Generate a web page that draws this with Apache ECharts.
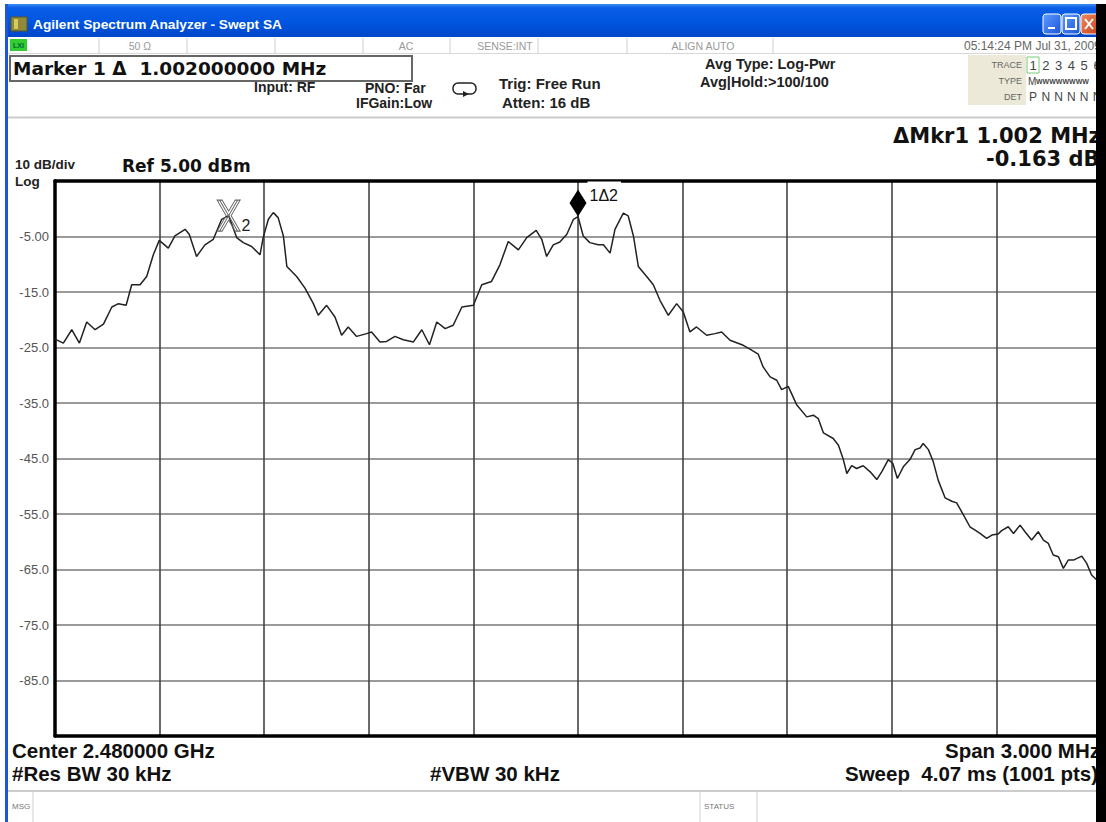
<!DOCTYPE html>
<html><head><meta charset="utf-8">
<script src="https://cdn.jsdelivr.net/npm/echarts@6/dist/echarts.min.js"></script>
<style>html,body{margin:0;padding:0;background:#fff;overflow:hidden}#c{width:1106px;height:822px}</style>
</head><body><div id="c"></div>
<script>
// Trace: frequency offset from centre (kHz) and level (dBm)
const freqKHz = [-1500,-1476,-1452,-1430,-1409,-1385,-1361,-1337,-1318,-1296,-1280,-1256,-1237,-1218,-1201,-1175,-1156,-1127,-1115,-1094,-1070,-1046,-1022,-1002,-979,-960,-936,-912,-903,-888,-874,-860,-845,-835,-807,-783,-759,-745,-721,-697,-678,-659,-635,-606,-592,-568,-549,-525,-501,-472,-448,-426,-405,-381,-358,-333,-300,-276,-248,-224,-200,-171,-147,-120,-104,-90,-71,-52,-32,-13,0,15,34,58,73,92,106,130,144,159,173,197,216,235,259,283,302,321,340,369,393,412,436,474,493,517,531,551,570,584,603,627,656,675,689,704,732,747,761,771,785,799,818,838,857,871,890,903,916,933,952,967,981,990,1005,1019,1033,1053,1072,1086,1105,1124,1139,1153,1172,1187,1205,1215,1234,1249,1268,1282,1301,1320,1335,1349,1363,1378,1392,1406,1421,1445,1459,1473,1488,1500];
const levelDBm = [-23.5,-24.2,-21.8,-24.2,-20.4,-21.8,-20.8,-17.7,-17.1,-17.4,-13.7,-13.7,-12.2,-8.3,-5.7,-7.1,-4.9,-3.7,-4.6,-8.6,-6.5,-5.5,-1.9,-1.24,-5.2,-6.1,-6.8,-8.3,-5.2,-1.9,-0.7,-1.6,-4.9,-10.4,-12.2,-14.3,-17.1,-19.2,-17.4,-19.5,-22.8,-21.3,-23.0,-22.5,-22.2,-24.0,-23.9,-23.0,-23.6,-24.0,-21.8,-24.5,-20.4,-21.6,-21.0,-17.7,-17.4,-13.7,-13.1,-10.1,-5.9,-7.4,-5.2,-3.9,-5.5,-8.6,-6.5,-6.0,-4.6,-1.9,-1.4,-4.9,-6.1,-6.5,-6.5,-8.0,-3.7,-0.8,-1.3,-4.9,-10.4,-12.2,-13.7,-16.5,-19.2,-17.1,-18.6,-22.2,-21.3,-22.8,-22.5,-22.2,-23.7,-24.6,-25.3,-26.2,-28.5,-30.3,-30.9,-32.6,-32.0,-35.3,-37.5,-37.2,-37.8,-40.4,-41.4,-42.6,-45.2,-47.7,-46.3,-46.8,-46.3,-47.4,-48.8,-47.4,-45.2,-45.9,-48.6,-46.5,-45.2,-43.4,-43.1,-42.3,-43.4,-45.6,-48.9,-52.1,-52.7,-53.0,-55.1,-57.3,-57.9,-58.5,-59.4,-58.8,-58.6,-58.0,-57.3,-58.5,-57.0,-58.2,-59.7,-58.2,-59.7,-60.3,-62.4,-62.7,-64.8,-63.3,-63.3,-62.6,-63.9,-66.0,-66.9,-67.5];
// Y grid / tick labels
const gridTickValues = [-85,-75,-65,-55,-45,-35,-25,-15,-5];
const gridTickLabels = ['-85.0','-75.0','-65.0','-55.0','-45.0','-35.0','-25.0','-15.0','-5.00'];
// Markers: [marker 1, marker 2]
const markerFreqKHz = [0, -1002];
const markerLevel = [-1.40, -1.24];
const markerNames = ['1\u03942', '2'];

const chart = echarts.init(document.getElementById('c'), null, {renderer:'svg', width:1106, height:822});
const SANS = '"Liberation Sans", Arial, sans-serif';
const DJ = '"DejaVu Sans", sans-serif';
function T(text, x, y, font, fill, align, extra){
  return Object.assign({type:'text', z:50, style:{text:text, x:x, y:y, font:font, fill:fill||'#111', textAlign:align||'left', textVerticalAlign:'middle'}}, extra||{});
}
function R(x,y,w,h,fill,stroke,lw,z,r){
  return {type:'rect', z:z||40, shape:{x:x,y:y,width:w,height:h,r:r||0}, style:{fill:fill||'none', stroke:stroke||null, lineWidth:lw||0}};
}
function L(x1,y1,x2,y2,stroke,lw,z){
  return {type:'line', z:z||40, shape:{x1:x1,y1:y1,x2:x2,y2:y2}, style:{stroke:stroke, lineWidth:lw||1}};
}
const blueGrad = new echarts.graphic.LinearGradient(0,0,0,1,[
  {offset:0,color:'#3C8CF5'},{offset:0.12,color:'#0A5EE6'},{offset:0.55,color:'#0055E0'},{offset:1,color:'#0046C8'}]);
const btnGrad = new echarts.graphic.LinearGradient(0,0,1,1,[{offset:0,color:'#5E9CFF'},{offset:1,color:'#1B55D8'}]);
const closeGrad = new echarts.graphic.LinearGradient(0,0,1,1,[{offset:0,color:'#F08A60'},{offset:1,color:'#C8401A'}]);

const g = [];
// window frame
g.push(R(5,4,1091,33,blueGrad,null,0,40));
g.push(R(5,4,3,818,'#1F55D8',null,0,40));
g.push(R(11,17,16,14,'#8E8A3A','#5a5620',1,45));
g.push(R(14,19,4,10,'#D8C860',null,0,46));
g.push(T('Agilent Spectrum Analyzer - Swept SA',33,24,'bold 13.7px '+SANS,'#fff'));
g.push(R(1043,14,18,20,btnGrad,'#fff',1,45,3));
g.push(R(1048,27,7,2,'#fff',null,0,46));
g.push(R(1062,14,18,20,btnGrad,'#fff',1,45,3));
g.push(R(1066,18,10,11,'none','#fff',2,46));
g.push(R(1081,14,18,20,closeGrad,'#fff',1,45,3));
g.push(L(1085,19,1093,29,'#fff',2,46));
g.push(L(1093,19,1085,29,'#fff',2,46));
// status row
g.push(L(8,53.5,1096,53.5,'#d8d8d8',1));
g.push(R(10,39,17,12,'#33CC33',null,0,44));
g.push(T('LXI',18.5,45.5,'bold 7px '+SANS,'#063','center'));
[99,187,275,363,450,538,627,773].forEach(x=>g.push(L(x,38,x,53,'#cfcfcf',1)));
g.push(T('50 \u03a9',140,45.5,'10.5px '+SANS,'#999','center'));
g.push(T('AC',406,45.5,'10.5px '+SANS,'#999','center'));
g.push(T('SENSE:INT',505,45.5,'10.5px '+SANS,'#999','center'));
g.push(T('ALIGN AUTO',703,45.5,'10.5px '+SANS,'#999','center'));
g.push(T('05:14:24 PM Jul 31, 2009',964,45.5,'12px '+SANS,'#666'));
// marker box
g.push(R(10,56,402,25,'#fff','#666',2,41));
g.push(T('Marker 1 \u0394  1.002000000 MHz',13,68.5,'bold 18.5px '+DJ,'#111'));
g.push(T('Input: RF',254,87,'bold 14px '+SANS,'#222'));
g.push(T('PNO: Far',365,88,'bold 14px '+SANS,'#222'));
g.push(T('IFGain:Low',356,103,'bold 14px '+SANS,'#222'));
g.push(R(453,83,23,11,'none','#222',1.5,45,5));
g.push({type:'polygon', z:46, shape:{points:[[463,91],[469,94],[463,97]]}, style:{fill:'#222'}});
g.push(T('Trig: Free Run',499,83,'bold 15px '+SANS,'#222'));
g.push(T('Atten: 16 dB',502,102,'bold 15px '+SANS,'#222'));
g.push(T('Avg Type: Log-Pwr',705,64,'bold 14.5px '+SANS,'#222'));
g.push(T('Avg|Hold:>100/100',700,82,'bold 14.5px '+SANS,'#222'));
// trace info box
g.push(R(968,55,58,50,'#ECE9D8',null,0,41));
g.push(T('TRACE',1022,65,'9px '+SANS,'#666','right'));
g.push(T('TYPE',1022,81,'9px '+SANS,'#666','right'));
g.push(T('DET',1022,97,'9px '+SANS,'#666','right'));
g.push(R(1027,57,12,16,'none','#7c7',1,45));
['1','2','3','4','5','6'].forEach((s,i)=>g.push(T(s,1033+i*12.8,65,'13px '+SANS,'#444','center')));
g.push(T('M',1028,81,'10px '+SANS,'#444'));
g.push(T('WWWWWWWW',1036,81,'bold 7px '+SANS,'#444'));
['P','N','N','N','N','N'].forEach((s,i)=>g.push(T(s,1033+i*12.8,97,'12px '+SANS,'#444','center')));
g.push(L(8,117.5,1096,117.5,'#cccccc',2));
// delta marker readout
g.push(T('\u0394Mkr1 1.002 MHz',893,136,'bold 21px '+DJ,'#111'));
g.push(T('-0.163 dB',986,159,'bold 21px '+DJ,'#111'));
g.push(T('10 dB/div',15,164,'bold 13.5px '+SANS,'#222'));
g.push(T('Log',15,181,'bold 13.5px '+SANS,'#222'));
g.push(T('Ref 5.00 dBm',122,166,'bold 17px '+DJ,'#111'));
// bottom annotations
g.push(T('Center 2.480000 GHz',12,750,'bold 20.5px '+SANS,'#111'));
g.push(T('Span 3.000 MHz',945,750,'bold 20.5px '+SANS,'#111'));
g.push(T('#Res BW 30 kHz',12,773,'bold 20.5px '+SANS,'#111'));
g.push(T('#VBW 30 kHz',430,773,'bold 20.5px '+SANS,'#111'));
g.push(T('Sweep  4.07 ms (1001 pts)',845,773,'bold 20.5px '+SANS,'#111'));
g.push(L(8,791,1096,791,'#cccccc',2));
g.push(L(33,792,33,822,'#d0d0d0',1));
g.push(L(700,792,700,822,'#d0d0d0',1));
g.push(L(757,792,757,822,'#d0d0d0',1));
g.push(T('MSG',12,806,'8px '+SANS,'#777'));
g.push(T('STATUS',704,806,'8px '+SANS,'#777'));
// right black edge
g.push(R(1096,4,10,818,'#000',null,0,100));

const xPath = 'path://M0,0 L5,0 L11.5,11 L18,0 L23,0 L14,15.5 L23,31 L18,31 L11.5,20 L5,31 L0,31 L9,15.5 Z M2.5,0 L20.5,31 M20.5,0 L2.5,31';

const option = {
  animation:false,
  backgroundColor:'#fff',
  grid:{left:55, top:181, width:1046, height:555, show:false},
  xAxis:[
    {type:'value', min:-1500, max:1500, interval:300, position:'bottom',
     axisLine:{show:true, onZero:false, lineStyle:{color:'#000', width:3.5}},
     axisTick:{show:false}, axisLabel:{show:false},
     splitLine:{show:true, lineStyle:{color:'#444', width:1.6}}},
    {type:'value', min:-1500, max:1500, interval:300, position:'top',
     axisLine:{show:true, onZero:false, lineStyle:{color:'#000', width:3.5}},
     axisTick:{show:false}, axisLabel:{show:false}, splitLine:{show:false}}
  ],
  yAxis:{type:'value', min:-95, max:5,
    axisLine:{show:true, onZero:false, lineStyle:{color:'#000', width:3.5}},
    axisTick:{show:false, customValues:gridTickValues},
    axisLabel:{show:true, customValues:gridTickValues, margin:6, color:'#555', fontSize:13, fontFamily:'Liberation Sans',
      formatter:function(v){const i=gridTickValues.indexOf(Math.round(v)); return i>=0?gridTickLabels[i]:'';}},
    splitLine:{show:true, lineStyle:{color:'#9a9a9a', width:2}}},
  graphic:{elements:g},
  series:[{
    type:'line', xAxisIndex:0, yAxisIndex:0, z:3,
    data:freqKHz.map((f,i)=>[f, levelDBm[i]]),
    showSymbol:false, symbol:'none', smooth:false,
    lineStyle:{color:'#222', width:1.5},
    markPoint:{
      silent:true,
      data:[
        {coord:[markerFreqKHz[0], markerLevel[0]], symbol:'diamond', symbolSize:[17,27], symbolOffset:[0,'-50%'],
         itemStyle:{color:'#000'},
         label:{show:true, formatter:markerNames[0], position:'right', distance:1, offset:[0,-8], color:'#111', fontSize:16,
           fontFamily:'Liberation Sans', backgroundColor:'#fff', padding:[9,3,2,2]}},
        {coord:[markerFreqKHz[1], markerLevel[1]], symbol:xPath, symbolSize:[23,31],
         itemStyle:{color:'rgba(255,255,255,0)', borderColor:'#666', borderWidth:1},
         label:{show:true, formatter:markerNames[1], position:'right', distance:1, offset:[0,10], color:'#222', fontSize:16,
           fontFamily:'Liberation Sans'}}
      ]
    }
  }]
};
chart.setOption(option);
</script>
</body></html>
